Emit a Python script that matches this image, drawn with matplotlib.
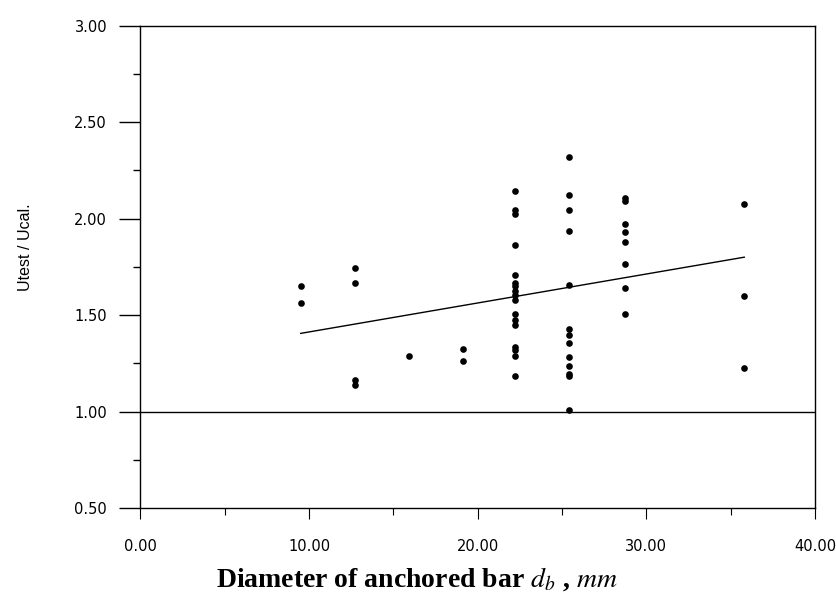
import matplotlib
matplotlib.use("Agg")
import matplotlib.pyplot as plt
from matplotlib.ticker import MultipleLocator, FormatStrFormatter

plt.rcParams['mathtext.fontset'] = 'stix'

# Bar diameters (mm) and measured/calculated strength ratios
d_b = ([9.5] * 2 + [12.7] * 4 + [15.9] + [19.1] * 2 + [22.2] * 17 +
       [25.4] * 13 + [28.7] * 8 + [35.8] * 3)
ratio = [1.65, 1.56,
         1.745, 1.667, 1.165, 1.14,
         1.288,
         1.323, 1.262,
         2.145, 2.046, 2.024, 1.861, 1.706, 1.666, 1.649, 1.626, 1.602, 1.579,
         1.507, 1.475, 1.45, 1.337, 1.317, 1.286, 1.185,
         2.318, 2.12, 2.047, 1.938, 1.658, 1.428, 1.399, 1.355, 1.283, 1.234,
         1.194, 1.183, 1.01,
         2.109, 2.091, 1.974, 1.93, 1.879, 1.767, 1.638, 1.504,
         2.075, 1.598, 1.226]

# Trend line
trend_x = [9.5, 35.8]
trend_y = [1.405, 1.80]

# Reference line (ratio = 1.0)
ref_x = [0.0, 40.0]
ref_y = [1.0, 1.0]

x_ticks = [0, 10, 20, 30, 40]
y_ticks = [0.5, 1.0, 1.5, 2.0, 2.5, 3.0]

fig = plt.figure(figsize=(8.36, 6.12), dpi=100)
ax = fig.add_axes([0.168, 0.17, 0.807, 0.788])

ax.plot(d_b, ratio, linestyle='none', marker='o', markersize=4.8,
        color='black', markeredgewidth=0)
ax.plot(trend_x, trend_y, color='black', linewidth=1.0)
ax.plot(ref_x, ref_y, color='black', linewidth=1.0)

ax.set_xlim(0, 40)
ax.set_ylim(0.5, 3.0)
ax.set_xticks(x_ticks)
ax.set_yticks(y_ticks)
ax.xaxis.set_minor_locator(MultipleLocator(5))
ax.yaxis.set_minor_locator(MultipleLocator(0.25))
ax.xaxis.set_major_formatter(FormatStrFormatter('%.2f'))
ax.yaxis.set_major_formatter(FormatStrFormatter('%.2f'))

for lab in ax.get_xticklabels() + ax.get_yticklabels():
    lab.set_fontfamily('DejaVu Sans')
    lab.set_fontsize(10.5)

ax.tick_params(axis='y', which='major', direction='out', length=15, width=1, pad=9)
ax.tick_params(axis='y', which='minor', direction='out', length=5, width=1)
ax.tick_params(axis='x', which='major', direction='out', length=8, width=0.8, pad=14)
ax.tick_params(axis='x', which='minor', direction='out', length=5, width=0.8)

for sp in ax.spines.values():
    sp.set_linewidth(1.0)
    sp.set_color('black')

ax.set_ylabel('Utest / Ucal.', fontfamily='Liberation Sans', fontsize=11.5)
ax.yaxis.set_label_coords(-0.16, 0.54)

ax.set_xlabel(r'Diameter of anchored bar $d_b$ , $mm$',
              fontfamily='Liberation Serif', fontweight='bold', fontsize=20)
ax.xaxis.set_label_coords(0.41, -0.118)

fig.savefig('out.png', dpi=100)
